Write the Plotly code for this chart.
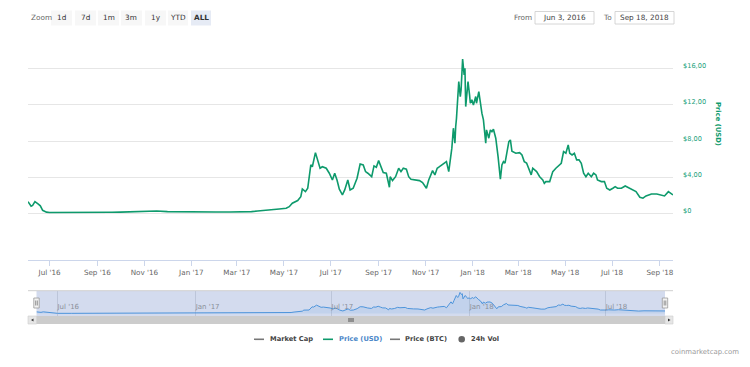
import plotly.graph_objects as go

# ---------------- data ----------------
dates = [
    "2016-06-03", "2016-06-07", "2016-06-09", "2016-06-12", "2016-06-16", "2016-06-19",
    "2016-06-22", "2016-06-27", "2016-07-01", "2016-07-20", "2016-08-01", "2016-08-20",
    "2016-09-01", "2016-09-20", "2016-10-01", "2016-10-20", "2016-10-28", "2016-11-08",
    "2016-11-17", "2016-12-01", "2016-12-20", "2017-01-01", "2017-01-20", "2017-02-01",
    "2017-02-20", "2017-03-01", "2017-03-20", "2017-03-28", "2017-04-12", "2017-04-25",
    "2017-05-04", "2017-05-08", "2017-05-12", "2017-05-19", "2017-05-23", "2017-05-25",
    "2017-05-29", "2017-06-01", "2017-06-05", "2017-06-07", "2017-06-11", "2017-06-14",
    "2017-06-17", "2017-06-20", "2017-06-25", "2017-06-29", "2017-07-03", "2017-07-06",
    "2017-07-09", "2017-07-12", "2017-07-16", "2017-07-19", "2017-07-23", "2017-07-26",
    "2017-07-30", "2017-08-04", "2017-08-08", "2017-08-12", "2017-08-15", "2017-08-18",
    "2017-08-23", "2017-08-26", "2017-08-29", "2017-09-01", "2017-09-04", "2017-09-07",
    "2017-09-11", "2017-09-15", "2017-09-16", "2017-09-19", "2017-09-23", "2017-09-27",
    "2017-09-30", "2017-10-03", "2017-10-07", "2017-10-10", "2017-10-13", "2017-10-18",
    "2017-10-24", "2017-10-28", "2017-11-02", "2017-11-05", "2017-11-10", "2017-11-13",
    "2017-11-16", "2017-11-19", "2017-11-22", "2017-11-25", "2017-11-28", "2017-12-01",
    "2017-12-03", "2017-12-05", "2017-12-07", "2017-12-09", "2017-12-10", "2017-12-11",
    "2017-12-14", "2017-12-16", "2017-12-17", "2017-12-19", "2017-12-21", "2017-12-22",
    "2017-12-23", "2017-12-24", "2017-12-26", "2017-12-28", "2017-12-29", "2017-12-31",
    "2018-01-02", "2018-01-05", "2018-01-06", "2018-01-09", "2018-01-11", "2018-01-13",
    "2018-01-15", "2018-01-18", "2018-01-19", "2018-01-22", "2018-01-24", "2018-01-26",
    "2018-01-28", "2018-01-31", "2018-02-03", "2018-02-05", "2018-02-06", "2018-02-08",
    "2018-02-10", "2018-02-12", "2018-02-15", "2018-02-17", "2018-02-19", "2018-02-21",
    "2018-02-26", "2018-03-03", "2018-03-06", "2018-03-09", "2018-03-12", "2018-03-16",
    "2018-03-18", "2018-03-20", "2018-03-25", "2018-03-29", "2018-04-02", "2018-04-04",
    "2018-04-06", "2018-04-11", "2018-04-15", "2018-04-19", "2018-04-24", "2018-04-26",
    "2018-04-29", "2018-05-02", "2018-05-05", "2018-05-07", "2018-05-10", "2018-05-13",
    "2018-05-16", "2018-05-19", "2018-05-22", "2018-05-25", "2018-05-28", "2018-05-31",
    "2018-06-04", "2018-06-07", "2018-06-10", "2018-06-12", "2018-06-17", "2018-06-21",
    "2018-06-24", "2018-06-28", "2018-07-02", "2018-07-05", "2018-07-08", "2018-07-13",
    "2018-07-18", "2018-07-24", "2018-07-28", "2018-08-01", "2018-08-06", "2018-08-10",
    "2018-08-14", "2018-08-21", "2018-08-28", "2018-09-03", "2018-09-07", "2018-09-12",
    "2018-09-15", "2018-09-18",
]
price_usd = [
    1.35, 0.85, 0.95, 1.35, 1.10, 0.90,
    0.40, 0.20, 0.16, 0.15, 0.18, 0.17,
    0.20, 0.19, 0.20, 0.24, 0.33, 0.36,
    0.33, 0.25, 0.22, 0.20, 0.19, 0.21,
    0.22, 0.22, 0.26, 0.32, 0.40, 0.55,
    0.63, 0.80, 1.18, 1.47, 1.90, 2.75,
    2.46, 2.83, 5.40, 5.20, 6.75, 5.95,
    5.03, 5.20, 5.03, 4.48, 3.74, 4.48,
    3.74, 2.72, 2.09, 2.64, 3.74, 2.64,
    2.83, 3.93, 5.50, 5.40, 4.66, 4.48,
    4.10, 5.29, 5.14, 5.87, 5.20, 4.55,
    4.48, 2.94, 4.10, 3.67, 4.10, 5.03,
    4.66, 5.03, 4.92, 4.10, 3.82, 3.74,
    3.67, 3.45, 2.83, 3.74, 4.77, 4.30,
    5.03, 5.20, 5.40, 5.50, 5.76, 4.66,
    6.13, 7.24, 9.44, 7.79, 9.60, 10.50,
    14.57, 12.92, 13.66, 17.04, 15.30, 16.05,
    11.82, 12.92, 14.57, 13.10, 12.19, 12.56,
    12.00, 12.92, 12.19, 13.47, 12.00, 11.09,
    10.35, 7.79, 9.25, 8.34, 9.25, 9.06,
    9.33, 8.34, 6.31, 5.03, 3.82, 5.40,
    5.76, 5.60, 7.05, 7.96, 8.15, 6.90,
    6.68, 6.75, 6.50, 5.76, 5.60, 4.85,
    4.30, 5.03, 4.66, 4.10, 3.74, 3.38,
    3.56, 3.56, 4.66, 5.03, 5.40, 5.58,
    6.86, 6.68, 7.60, 6.68, 6.50, 6.68,
    5.95, 5.95, 5.58, 4.48, 4.10, 4.48,
    4.10, 4.48, 4.30, 3.74, 3.56, 3.56,
    2.83, 2.64, 2.83, 3.00, 2.83, 2.83,
    3.08, 2.83, 2.64, 2.46, 1.84, 1.73,
    1.98, 2.20, 2.20, 2.10, 1.98, 2.46,
    2.28, 2.09,
]

x_tick_dates = ["2016-07-01", "2016-09-01", "2016-11-01", "2017-01-01", "2017-03-01",
                "2017-05-01", "2017-07-01", "2017-09-01", "2017-11-01", "2018-01-01",
                "2018-03-01", "2018-05-01", "2018-07-01", "2018-09-01"]
x_tick_labels = ["Jul '16", "Sep '16", "Nov '16", "Jan '17", "Mar '17", "May '17", "Jul '17",
                 "Sep '17", "Nov '17", "Jan '18", "Mar '18", "May '18", "Jul '18", "Sep '18"]
nav_tick_dates = ["2016-07-01", "2017-01-01", "2017-07-01", "2018-01-01", "2018-07-01"]
nav_tick_labels = ["Jul '16", "Jan '17", "Jul '17", "Jan '18", "Jul '18"]
y_tick_vals = [0, 4, 8, 12, 16, 20]
y_tick_labels = ["$0", "$4,00", "$8,00", "$12,00", "$16,00", ""]
zoom_buttons = ["1d", "7d", "1m", "3m", "1y", "YTD", "ALL"]
legend_items = ["Market Cap", "Price (USD)", "Price (BTC)", "24h Vol"]
range_from = "Jun 3, 2016"
range_to = "Sep 18, 2018"
x_start, x_end = "2016-06-03", "2018-09-18"

# ---------------- helpers ----------------
# the page body adds an 8px margin, so the figure is offset by (8, 8)
OX, OY = 8, 8
W, H = 734, 351
FONT = "DejaVu Sans"
GREEN = "#0e9a6c"


def px(x):
    return (x - OX) / W


def py(y):
    return 1 - (y - OY) / H


fig = go.Figure()
fig.add_trace(go.Scatter(x=dates, y=price_usd, mode="lines", name="Price (USD)",
                         line=dict(color=GREEN, width=1.6), xaxis="x", yaxis="y",
                         hoverinfo="x+y"))
fig.add_trace(go.Scatter(x=dates, y=price_usd, mode="lines", name="nav",
                         line=dict(color="#4d94db", width=1), fill="tozeroy",
                         fillcolor="rgba(77,148,219,0.12)", xaxis="x2", yaxis="y2",
                         hoverinfo="skip"))

shapes = []
annotations = []

# navigator background (mask) and outline
shapes.append(dict(type="rect", xref="paper", yref="paper", x0=px(36.5), x1=px(665),
                   y0=py(316), y1=py(291), fillcolor="#d3dbee", line=dict(width=0), layer="below"))
shapes.append(dict(type="line", xref="paper", yref="paper", x0=px(28), x1=px(673),
                   y0=py(290.7), y1=py(290.7), line=dict(color="#cfcfcf", width=1)))
# scrollbar
shapes.append(dict(type="rect", xref="paper", yref="paper", x0=px(28), x1=px(673),
                   y0=py(324), y1=py(316), fillcolor="#f2f2f2", line=dict(width=0)))
shapes.append(dict(type="rect", xref="paper", yref="paper", x0=px(36.5), x1=px(665),
                   y0=py(324), y1=py(316), fillcolor="#cccccc", line=dict(width=0)))
for bx0, bx1 in [(28, 36.5), (665, 673)]:
    shapes.append(dict(type="rect", xref="paper", yref="paper", x0=px(bx0), x1=px(bx1),
                       y0=py(324), y1=py(316), fillcolor="#e6e6e6",
                       line=dict(color="#cccccc", width=0.6)))
shapes.append(dict(type="path", xref="paper", yref="paper",
                   path=f"M {px(33.5)} {py(318.5)} L {px(31)} {py(320)} L {px(33.5)} {py(321.5)} Z",
                   fillcolor="#333333", line=dict(width=0)))
shapes.append(dict(type="path", xref="paper", yref="paper",
                   path=f"M {px(668)} {py(318.5)} L {px(670.5)} {py(320)} L {px(668)} {py(321.5)} Z",
                   fillcolor="#333333", line=dict(width=0)))
for gx in (349, 351, 353):
    shapes.append(dict(type="line", xref="paper", yref="paper", x0=px(gx), x1=px(gx),
                       y0=py(318), y1=py(322), line=dict(color="#333333", width=0.8)))
# navigator handles
for hx in (36.5, 665):
    shapes.append(dict(type="rect", xref="paper", yref="paper", x0=px(hx - 2.7), x1=px(hx + 2.7),
                       y0=py(308), y1=py(298), fillcolor="#f2f2f2",
                       line=dict(color="#999999", width=0.8)))
    for lx in (hx - 0.8, hx + 0.8):
        shapes.append(dict(type="line", xref="paper", yref="paper", x0=px(lx), x1=px(lx),
                           y0=py(305.5), y1=py(300.5), line=dict(color="#333333", width=0.5)))

# range selector
annotations.append(dict(text="Zoom", xref="paper", yref="paper", x=px(29), y=py(18),
                        xanchor="left", yanchor="middle", showarrow=False,
                        font=dict(family=FONT, size=7.3, color="#666666")))
btn_left = [51, 75, 98, 121, 145, 168, 191]
btn_right = [72, 96, 119, 142, 166, 188, 211]
for i, lab in enumerate(zoom_buttons):
    active = lab == "ALL"
    shapes.append(dict(type="rect", xref="paper", yref="paper", x0=px(btn_left[i]), x1=px(btn_right[i]),
                       y0=py(25.5), y1=py(10.5),
                       fillcolor="#e6ebf5" if active else "#f7f7f7", line=dict(width=0)))
    annotations.append(dict(text=f"<b>{lab}</b>" if active else lab, xref="paper", yref="paper",
                            x=px((btn_left[i] + btn_right[i]) / 2), y=py(18),
                            xanchor="center", yanchor="middle", showarrow=False,
                            font=dict(family=FONT, size=7.3, color="#333333")))

# date inputs
annotations.append(dict(text="From", xref="paper", yref="paper", x=px(512), y=py(18),
                        xanchor="left", yanchor="middle", showarrow=False,
                        font=dict(family=FONT, size=7.3, color="#666666")))
annotations.append(dict(text="To", xref="paper", yref="paper", x=px(601), y=py(18),
                        xanchor="left", yanchor="middle", showarrow=False,
                        font=dict(family=FONT, size=7.3, color="#666666")))
for bx0, bx1, txt in [(535, 594, range_from), (615, 674, range_to)]:
    shapes.append(dict(type="rect", xref="paper", yref="paper", x0=px(bx0), x1=px(bx1),
                       y0=py(24), y1=py(11.5), fillcolor="white",
                       line=dict(color="#cccccc", width=0.8)))
    annotations.append(dict(text=txt, xref="paper", yref="paper", x=px((bx0 + bx1) / 2), y=py(18),
                            xanchor="center", yanchor="middle", showarrow=False,
                            font=dict(family=FONT, size=7.3, color="#444444")))

# y-axis title
annotations.append(dict(text="<b>Price (USD)</b>", xref="paper", yref="paper", x=px(718), y=py(124),
                        xanchor="center", yanchor="middle", textangle=90, showarrow=False,
                        font=dict(family=FONT, size=6.8, color=GREEN)))

# legend
leg_sym_x = [254, 323, 390, 461.7]
leg_txt_x = [267.5, 336.5, 403, 469]
leg_colors = ["#444444", "#4a86c8", "#444444", "#444444"]
leg_sym_colors = ["#777777", GREEN, "#777777", "#666666"]
LY = 339.3
for i, lab in enumerate(legend_items):
    if lab == "24h Vol":
        shapes.append(dict(type="circle", xref="paper", yref="paper",
                           x0=px(leg_sym_x[i] - 3.3), x1=px(leg_sym_x[i] + 3.3),
                           y0=py(LY + 3.3), y1=py(LY - 3.3),
                           fillcolor=leg_sym_colors[i], line=dict(width=0)))
    else:
        shapes.append(dict(type="line", xref="paper", yref="paper",
                           x0=px(leg_sym_x[i]), x1=px(leg_sym_x[i] + 10),
                           y0=py(LY), y1=py(LY), line=dict(color=leg_sym_colors[i], width=1.6)))
    annotations.append(dict(text=f"<b>{lab}</b>", xref="paper", yref="paper", x=px(leg_txt_x[i]),
                            y=py(LY), xanchor="left", yanchor="middle", showarrow=False,
                            font=dict(family=FONT, size=6.7, color=leg_colors[i])))

# credits
annotations.append(dict(text="coinmarketcap.com", xref="paper", yref="paper", x=px(741), y=py(352),
                        xanchor="right", yanchor="middle", showarrow=False,
                        font=dict(family=FONT, size=6.9, color="#999999")))

fig.update_layout(
    width=W, height=H,
    margin=dict(l=0, r=0, t=0, b=0),
    paper_bgcolor="white", plot_bgcolor="white",
    showlegend=False,
    font=dict(family=FONT),
    xaxis=dict(domain=[px(28), px(673)], type="date", range=[x_start, x_end],
               tickmode="array", tickvals=x_tick_dates, ticktext=x_tick_labels,
               showgrid=False, zeroline=False, showline=True, linecolor="#ccd6eb", linewidth=1,
               ticks="outside", ticklen=5, tickcolor="#ccd6eb",
               tickfont=dict(family=FONT, size=7.2, color="#666666"),
               anchor="y", automargin=False, fixedrange=True),
    yaxis=dict(domain=[py(260), py(32)], range=[-5.07, 20.03], side="right",
               tickmode="array", tickvals=y_tick_vals, ticktext=y_tick_labels,
               showgrid=True, gridcolor="#e6e6e6", gridwidth=1, zeroline=False, showline=False,
               tickfont=dict(family=FONT, size=6.6, color="#20a07a"),
               ticklabelstandoff=9, ticklabelshift=-3, anchor="x", automargin=False,
               fixedrange=True),
    xaxis2=dict(domain=[px(36.5), px(665)], type="date", range=[x_start, x_end],
                tickmode="array", tickvals=nav_tick_dates, ticktext=nav_tick_labels,
                showgrid=True, gridcolor="#bcc5d9", gridwidth=1, zeroline=False, showline=False,
                ticks="", ticklabelposition="inside right",
                tickfont=dict(family=FONT, size=7.0, color="#8a8f99"),
                anchor="y2", automargin=False, fixedrange=True),
    yaxis2=dict(domain=[py(316), py(291)], range=[-2.0, 18.2], visible=False,
                anchor="x2", fixedrange=True),
    shapes=shapes,
    annotations=annotations,
)

fig.write_html("out.html")
